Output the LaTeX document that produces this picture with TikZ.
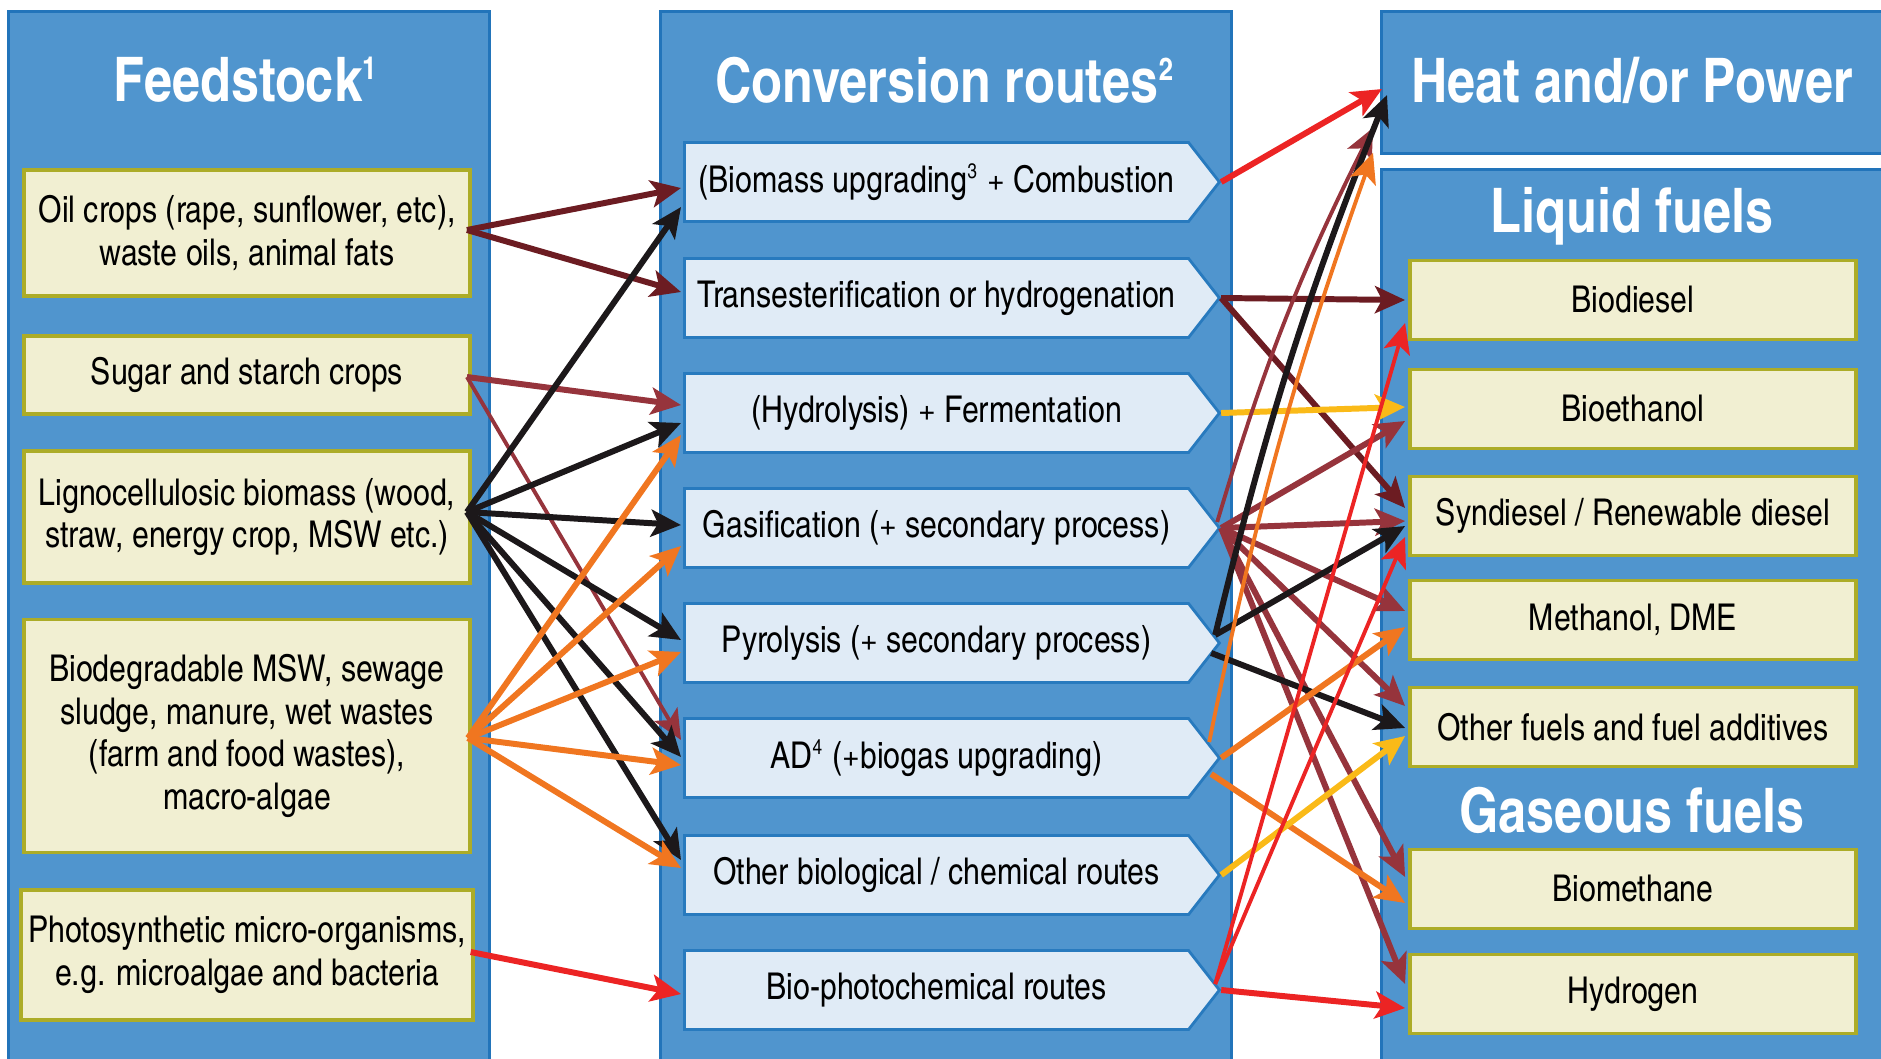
\documentclass[tikz,border=0pt]{standalone}
\usepackage{fontspec}
\setmainfont{texgyreheroscn}[Extension=.otf,UprightFont=*-regular,BoldFont=*-bold,ItalicFont=*-italic,BoldItalicFont=*-bolditalic]
\usepackage{tikz}
\usetikzlibrary{arrows.meta,calc,shapes.symbols}

\definecolor{panelblue}{RGB}{80,149,206}
\definecolor{paneledge}{RGB}{34,116,186}
\definecolor{cream}{RGB}{241,239,210}
\definecolor{creamedge}{RGB}{172,172,40}
\definecolor{routefill}{RGB}{224,235,246}
\definecolor{routeedge}{RGB}{40,122,190}
\definecolor{oilcol}{RGB}{108,28,34}
\definecolor{sugarcol}{RGB}{150,52,60}
\definecolor{lignocol}{RGB}{28,24,26}
\definecolor{wastecol}{RGB}{240,118,32}
\definecolor{algaecol}{RGB}{236,36,36}
\definecolor{fermcol}{RGB}{250,186,24}

\newcommand{\supnum}[1]{\textsuperscript{\fontsize{6}{6}\selectfont #1}}
\newcommand{\headsup}[1]{\textsuperscript{\fontsize{9}{9}\selectfont #1}}

\begin{document}
\begin{tikzpicture}[x=0.1mm,y=-0.1mm,
    panel/.style={draw=paneledge,fill=panelblue,line width=0.8pt,inner sep=0pt,anchor=north west},
    head/.style={text=white,font=\bfseries\fontsize{17.5}{20}\selectfont},
    feed/.style={draw=creamedge,fill=cream,line width=1.1pt,minimum width=44.6mm,align=center,inner sep=2pt,font=\fontsize{10.5}{12.2}\selectfont},
    fuel/.style={feed,minimum height=7.9mm},
    route/.style={signal,signal to=east,signal pointer angle=104,draw=routeedge,fill=routefill,line width=0.8pt,minimum width=53.5mm,minimum height=7.9mm,anchor=west,font=\fontsize{10.5}{12.2}\selectfont},
    link/.style={line width=1.7pt,-{Stealth[length=3mm,width=2.7mm,inset=0.7mm]}},
    thin/.style={line width=1.1pt}]
  \useasboundingbox (0,0) rectangle (1881,1058);
  \clip (0,0) rectangle (1881,1058);

  \node[panel,minimum width=48.1mm,minimum height=107mm] (feedpanel) at (7,10) {};
  \node[panel,minimum width=57.1mm,minimum height=107mm] (convpanel) at (659,10) {};
  \node[panel,minimum width=52mm,minimum height=14.2mm] (heat) at (1380,10) {};
  \node[panel,minimum width=52mm,minimum height=91mm] (fuelpanel) at (1380,168) {};

  \node[head] (feedtitle) at (246,80) {Feedstock\headsup{1}};
  \node[head] (convtitle) at (945,80) {Conversion routes\headsup{2}};
  \node[head] (heattitle) at (1632,80) {Heat and/or Power};
  \node[head] (liqtitle) at (1632,216) {Liquid fuels};
  \node[head] (gastitle) at (1632,810) {Gaseous fuels};

  \node[feed,minimum height=12.6mm] (oil) at (247,233) {Oil crops (rape, sunflower, etc),\\waste oils, animal fats};
  \node[feed,minimum height=7.8mm] (sugar) at (247,375) {Sugar and starch crops};
  \node[feed,minimum height=13.2mm] (ligno) at (247,517) {Lignocellulosic biomass (wood,\\straw, energy crop, MSW etc.)};
  \node[feed,minimum height=23.3mm] (biodeg) at (247,736) {Biodegradable MSW, sewage\\sludge, manure, wet wastes\\(farm and food wastes),\\macro-algae};
  \node[feed,minimum height=13mm] (photo) at (247,955) {Photosynthetic micro-organisms,\\e.g. microalgae and bacteria};

  \node[route] (upgr) at (683,182) {(Biomass upgrading\supnum{3} + Combustion};
  \node[route] (trans) at (683,298) {Transesterification or hydrogenation};
  \node[route] (hydro) at (683,413) {(Hydrolysis) + Fermentation};
  \node[route] (gasif) at (683,528) {Gasification (+ secondary process)};
  \node[route] (pyro) at (683,643) {Pyrolysis (+ secondary process)};
  \node[route] (ad) at (683,758) {AD\supnum{4} (+biogas upgrading)};
  \node[route] (otherr) at (683,875) {Other biological / chemical routes};
  \node[route] (bphoto) at (683,990) {Bio-photochemical routes};

  \node[fuel] (bdiesel) at (1633,300) {Biodiesel};
  \node[fuel] (bethanol) at (1633,409) {Bioethanol};
  \node[fuel] (syn) at (1633,516) {Syndiesel / Renewable diesel};
  \node[fuel] (meth) at (1633,620) {Methanol, DME};
  \node[fuel] (ofuel) at (1633,727) {Other fuels and fuel additives};
  \node[fuel] (bmeth) at (1633,889) {Biomethane};
  \node[fuel] (hydrogen) at (1633,994) {Hydrogen};

  \draw[link,oilcol] ($(oil.east)+(-5,-3)$) -- ($(upgr.west)+(-2,6)$);
  \draw[link,oilcol] ($(oil.east)+(-5,-3)$) -- ($(trans.west)+(-2,-6)$);
  \draw[link,sugarcol] ($(sugar.east)+(-5,2)$) -- ($(hydro.west)+(-2,-8)$);
  \draw[link,thin,sugarcol] ($(sugar.east)+(-5,2)$) -- ($(ad.west)+(-2,-18)$);
  \draw[link,lignocol] ($(ligno.east)+(-5,-5)$) -- ($(upgr.west)+(-2,25)$);
  \draw[link,lignocol] ($(ligno.east)+(-5,-5)$) -- ($(hydro.west)+(-2,10)$);
  \draw[link,lignocol] ($(ligno.east)+(-5,-5)$) -- ($(gasif.west)+(-2,-3)$);
  \draw[link,lignocol] ($(ligno.east)+(-5,-5)$) -- ($(pyro.west)+(-2,-3)$);
  \draw[link,lignocol] ($(ligno.east)+(-5,-5)$) -- ($(ad.west)+(-2,-1)$);
  \draw[link,lignocol] ($(ligno.east)+(-5,-5)$) -- ($(otherr.west)+(-2,-15)$);
  \draw[link,wastecol] ($(biodeg.east)+(-4,2)$) -- ($(hydro.west)+(-2,22)$);
  \draw[link,wastecol] ($(biodeg.east)+(-4,2)$) -- ($(gasif.west)+(-2,18)$);
  \draw[link,wastecol] ($(biodeg.east)+(-4,2)$) -- ($(pyro.west)+(-2,9)$);
  \draw[link,wastecol] ($(biodeg.east)+(-4,2)$) -- ($(ad.west)+(-2,7)$);
  \draw[link,wastecol] ($(biodeg.east)+(-4,2)$) -- ($(otherr.west)+(-2,-7)$);
  \draw[link,algaecol] ($(photo.east)+(-4,-3)$) -- ($(bphoto.west)+(-2,4)$);

  \draw[link,algaecol] (upgr.east) -- ($(heat.north west)+(2,79)$);
  \draw[link,oilcol] (trans.east) -- ($(bdiesel.west)+(-3,0)$);
  \draw[link,oilcol] (trans.east) -- ($(syn.west)+(-3,-8)$);
  \draw[link,fermcol] (hydro.east) -- ($(bethanol.west)+(-3,-2)$);
  \draw[link,thin,sugarcol] ($(gasif.east)+(-4,-6)$) to[bend left=5] ($(heat.south west)+(-7,-27)$);
  \draw[link,sugarcol] (gasif.east) -- ($(bethanol.west)+(-3,12)$);
  \draw[link,sugarcol] (gasif.east) -- ($(syn.west)+(-3,5)$);
  \draw[link,sugarcol] (gasif.east) -- ($(meth.west)+(-3,-9)$);
  \draw[link,sugarcol] (gasif.east) -- ($(ofuel.west)+(-3,-21)$);
  \draw[link,sugarcol] (gasif.east) -- ($(bmeth.west)+(-3,-12)$);
  \draw[link,sugarcol] (gasif.east) -- ($(hydrogen.west)+(-3,-10)$);
  \draw[link,lignocol] ($(pyro.east)+(-6,-8)$) to[bend left=4] ($(heat.north west)+(7,85)$);
  \draw[link,lignocol] ($(pyro.east)+(-6,-8)$) -- ($(syn.west)+(-3,10)$);
  \draw[link,lignocol] ($(pyro.east)+(-10,10)$) -- ($(ofuel.west)+(-3,1)$);
  \draw[link,thin,wastecol] ($(ad.east)+(-12,-16)$) to[bend left=4] ($(heat.south west)+(-7,-2)$);
  \draw[link,wastecol] (ad.east) -- ($(meth.west)+(-3,7)$);
  \draw[link,wastecol] ($(ad.east)+(-10,16)$) -- ($(bmeth.west)+(-3,14)$);
  \draw[link,fermcol] (otherr.east) -- ($(ofuel.west)+(-3,9)$);
  \draw[link,thin,algaecol] ($(bphoto.east)+(-6,-6)$) -- ($(bdiesel.west)+(-3,23)$);
  \draw[link,thin,algaecol] ($(bphoto.east)+(-6,-6)$) -- ($(syn.west)+(-3,21)$);
  \draw[link,algaecol] (bphoto.east) -- ($(hydrogen.west)+(-3,14)$);
\end{tikzpicture}
\end{document}
